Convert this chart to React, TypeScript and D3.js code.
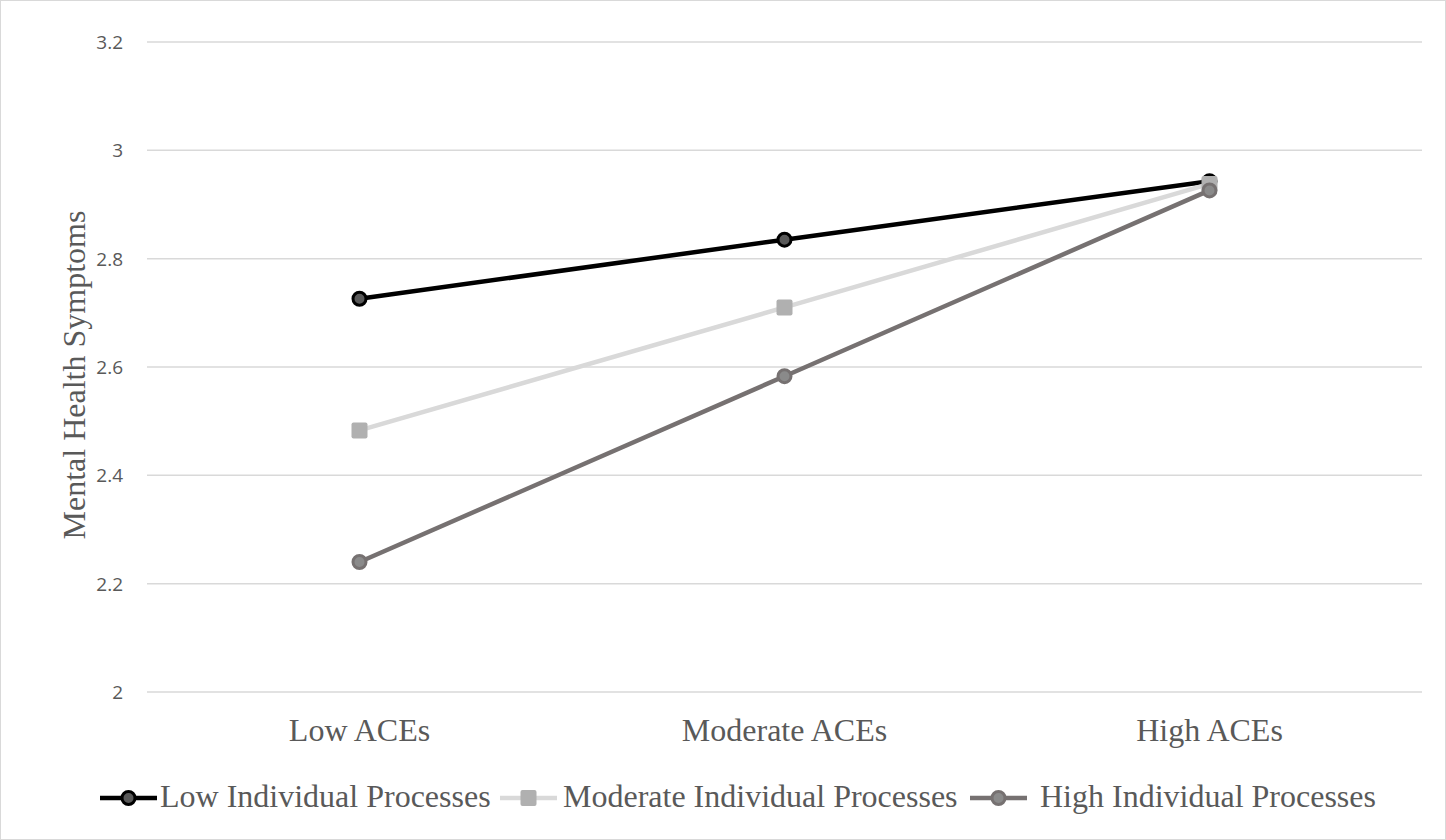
import React from "react";
import * as d3 from "d3";

const categories = ["Low ACEs", "Moderate ACEs", "High ACEs"];
const lowIP = [2.726, 2.835, 2.943];
const modIP = [2.483, 2.71, 2.938];
const highIP = [2.24, 2.583, 2.926];
const yTicks = [2, 2.2, 2.4, 2.6, 2.8, 3, 3.2];
const seriesNames = ["Low Individual Processes", "Moderate Individual Processes", "High Individual Processes"];

const W = 1446, H = 840;
const left = 147, right = 1422, top = 42, bottom = 692;
const serif = "'Liberation Serif', 'Times New Roman', serif";

export default function App() {
  const x = d3.scaleBand<string>().domain(categories).range([left, right]);
  const y = d3.scaleLinear().domain([2, 3.2]).range([bottom, top]);
  const cx = (c: string) => (x(c) as number) + x.bandwidth() / 2;
  const line = d3.line<[string, number]>().x((d) => cx(d[0])).y((d) => y(d[1]));

  const series = [
    { name: seriesNames[0], values: lowIP, stroke: "#000000", width: 4.5, marker: "circle", mFill: "#595959", mStroke: "#000000" },
    { name: seriesNames[1], values: modIP, stroke: "#d9d9d9", width: 4.5, marker: "square", mFill: "#b0b0b0", mStroke: "#b0b0b0" },
    { name: seriesNames[2], values: highIP, stroke: "#767171", width: 4.5, marker: "circle", mFill: "#8a8a8a", mStroke: "#767171" },
  ];

  const legendItems = [
    { lx: 100, tx: 160 },
    { lx: 500, tx: 563 },
    { lx: 970, tx: 1040 },
  ];

  const marker = (s: any, px: number, py: number, key: string) =>
    s.marker === "circle" ? (
      <circle key={key} cx={px} cy={py} r={6.5} fill={s.mFill} stroke={s.mStroke} strokeWidth={3} />
    ) : (
      <rect key={key} x={px - 8} y={py - 8} width={16} height={16} rx={2} fill={s.mFill} />
    );

  return (
    <svg width={W} height={H} style={{ position: "absolute", left: 0, top: 0, background: "#fff" }}>
      <rect x={0.5} y={0.5} width={W - 1} height={H - 1} fill="#fff" stroke="#d9d9d9" />
      {yTicks.map((t) => (
        <g key={t}>
          <line x1={left} x2={right} y1={y(t)} y2={y(t)} stroke="#d9d9d9" strokeWidth={1.5} />
          <text x={123} y={y(t)} dy="0.36em" textAnchor="end" fontFamily="'Open Sans', sans-serif" fontSize={19} fill="#595959">
            {d3.format("~g")(t)}
          </text>
        </g>
      ))}
      {categories.map((c) => (
        <text key={c} x={cx(c)} y={741} textAnchor="middle" fontFamily={serif} fontSize={32} fill="#595959">
          {c}
        </text>
      ))}
      <text transform={`translate(85, ${(top + bottom) / 2 + 8}) rotate(-90)`} textAnchor="middle" fontFamily={serif} fontSize={32} fill="#595959">
        Mental Health Symptoms
      </text>
      {series.map((s) => (
        <path key={s.name} d={line(categories.map((c, i) => [c, s.values[i]]) as any) || ""} fill="none" stroke={s.stroke} strokeWidth={s.width} strokeLinejoin="round" />
      ))}
      {series.map((s) => categories.map((c, i) => marker(s, cx(c), y(s.values[i]), s.name + c)))}
      {series.map((s, i) => (
        <g key={"lg" + s.name}>
          <line x1={legendItems[i].lx} x2={legendItems[i].lx + 57} y1={798} y2={798} stroke={s.stroke} strokeWidth={s.width} />
          {marker(s, legendItems[i].lx + 28.5, 798, "lm" + i)}
          <text x={legendItems[i].tx} y={807} fontFamily={serif} fontSize={32} fill="#595959">
            {s.name}
          </text>
        </g>
      ))}
    </svg>
  );
}
